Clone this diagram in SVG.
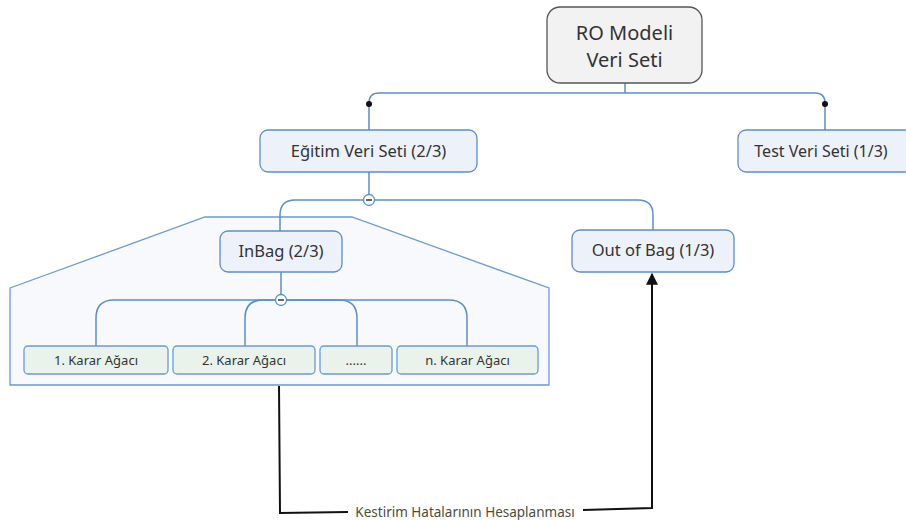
<svg xmlns="http://www.w3.org/2000/svg" width="906" height="520" viewBox="0 0 906 520">
<defs>
<style>
.node{fill:#edf2fa;stroke:#5b8fc9;stroke-width:1.3}
.leaf{fill:#e9f3ec;stroke:#6a9bd1;stroke-width:1.3}
.root{fill:#f2f2f2;stroke:#555;stroke-width:1.3}
.t{font-family:"Noto Sans","Open Sans",sans-serif;fill:#333;text-anchor:middle}
.conn{fill:none;stroke:#5b8fc9;stroke-width:1.5}
.blk{fill:none;stroke:#111;stroke-width:2}
</style>
<marker id="arr" viewBox="0 0 10 10" refX="9" refY="5" markerWidth="13" markerHeight="12" orient="auto" markerUnits="userSpaceOnUse">
<path d="M0,0 L10,5 L0,10 z" fill="#111"/>
</marker>
</defs>
<rect width="906" height="520" fill="#fff"/>
<g id="group-boundary">
<polygon points="10,288 205,217 352,217 549,288 549,385 10,385" fill="#f7f9fc" stroke="#6a9bd1" stroke-width="1.3"/>
</g>
<g id="connectors">
<path class="conn" d="M625,83 V93"/>
<path class="conn" d="M369,130 V103 Q369,93 379,93 H815 Q825,93 825,103 V130"/>
<circle cx="369" cy="104" r="3" fill="#111"/>
<circle cx="825" cy="104" r="3" fill="#111"/>
<path class="conn" d="M369,172 V200"/>
<path class="conn" d="M280,231 V215 Q280,200 295,200 H638 Q653,200 653,215 V230"/>
<circle cx="369" cy="200" r="5.5" fill="#fff" stroke="#5b8fc9" stroke-width="1.3"/>
<path d="M366,200 H372" stroke="#333" stroke-width="1.5"/>
<path class="conn" d="M281,272 V300"/>
<path class="conn" d="M96,346 V318 Q96,300 114,300 H449 Q467,300 467,318 V346"/>
<path class="conn" d="M245,346 V318 Q245,300 263,300 H339 Q357,300 357,318 V346"/>
<circle cx="281" cy="300" r="5.5" fill="#fff" stroke="#5b8fc9" stroke-width="1.3"/>
<path d="M278,300 H284" stroke="#333" stroke-width="1.5"/>
<path class="blk" d="M279,386 L280,513 L348,512"/>
<path class="blk" d="M583,510 L652,508 L652,274" marker-end="url(#arr)"/>
<text x="465" y="517" class="t" style="font-size:13.5px;fill:#4f4a3c">Kestirim Hatalarının Hesaplanması</text>
</g>
<g id="root">
<rect class="root" x="547" y="7" width="155" height="76" rx="13"/>
<text x="624.5" y="40" class="t" style="font-size:20px">RO Modeli</text>
<text x="624.5" y="67" class="t" style="font-size:20px">Veri Seti</text>
</g>
<g id="egitim">
<rect class="node" x="260" y="130" width="217" height="42" rx="8"/>
<text x="368.5" y="157" class="t" style="font-size:16.5px">Eğitim Veri Seti (2/3)</text>
</g>
<g id="test">
<rect class="node" x="738" y="130" width="175" height="42" rx="8"/>
<text x="821" y="157" class="t" style="font-size:16px">Test Veri Seti (1/3)</text>
</g>
<g id="inbag">
<rect class="node" x="220" y="231" width="122" height="41" rx="8"/>
<text x="281" y="257" class="t" style="font-size:16.5px">InBag (2/3)</text>
</g>
<g id="oob">
<rect class="node" x="572" y="230" width="162" height="42" rx="8"/>
<text x="653" y="256" class="t" style="font-size:16.5px">Out of Bag (1/3)</text>
</g>
<g id="tree1">
<rect class="leaf" x="24" y="346" width="144" height="28" rx="4"/>
<text x="96" y="365" class="t" style="font-size:13px">1. Karar Ağacı</text>
</g>
<g id="tree2">
<rect class="leaf" x="173" y="346" width="142" height="28" rx="4"/>
<text x="244" y="365" class="t" style="font-size:13px">2. Karar Ağacı</text>
</g>
<g id="tree3">
<rect class="leaf" x="320" y="346" width="72" height="28" rx="4"/>
<text x="356" y="365" class="t" style="font-size:13px">......</text>
</g>
<g id="treen">
<rect class="leaf" x="397" y="346" width="141" height="28" rx="4"/>
<text x="467.5" y="365" class="t" style="font-size:13px">n. Karar Ağacı</text>
</g>
</svg>
